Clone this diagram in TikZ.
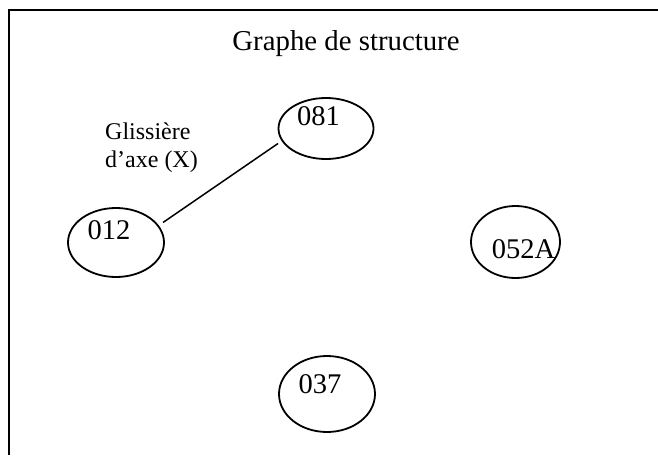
\documentclass[tikz,border=0pt]{standalone}
\usepackage{fontspec}
\setmainfont{Liberation Serif}
\usetikzlibrary{shapes.geometric}
\begin{document}
\begin{tikzpicture}[x=1pt,y=-1pt,
  part/.style={ellipse,draw,line width=1.8pt,inner sep=0pt},
  numtxt/.style={inner sep=0pt,font=\fontsize{28.5}{34}\selectfont,anchor=base},
  title/.style={inner sep=0pt,font=\fontsize{28.8}{34}\selectfont,anchor=base},
  linklabel/.style={inner sep=0pt,font=\fontsize{24}{28}\selectfont,align=left,anchor=north west},
  frame/.style={line width=2pt},
  link/.style={line width=1.5pt}]
\useasboundingbox (0,0) rectangle (658,455);
% frame (only top and left edges visible)
\draw[frame] (9,455) -- (9,10) -- (658,10);
% title
\node[title] (ttl) at (346,50) {Graphe de structure};
% parts
\node[part,minimum width=95pt,minimum height=61pt] (e081) at (326,128.5) {};
\node[part,minimum width=96pt,minimum height=69pt] (e012) at (116,242.5) {};
\node[part,minimum width=89pt,minimum height=72pt] (e052) at (515.5,242) {};
\node[part,minimum width=96pt,minimum height=76pt] (e037) at (327,394) {};
% part labels
\node[numtxt] (t081) at ([xshift=-7.5pt,yshift=3.5pt]e081.center) {081};
\node[numtxt] (t012) at ([xshift=-7pt,yshift=3.5pt]e012.center) {012};
\node[numtxt] (t052) at ([xshift=8pt,yshift=-16pt]e052.center) {052A};
\node[numtxt] (t037) at ([xshift=-7pt,yshift=1pt]e037.center) {037};
% link
\draw[link] ([xshift=47pt,yshift=20pt]e012.center) -- ([xshift=-48pt,yshift=-15pt]e081.center);
\node[linklabel] (lbl) at (105,122.5) {Glissière\\d’axe (X)};
\end{tikzpicture}
\end{document}
